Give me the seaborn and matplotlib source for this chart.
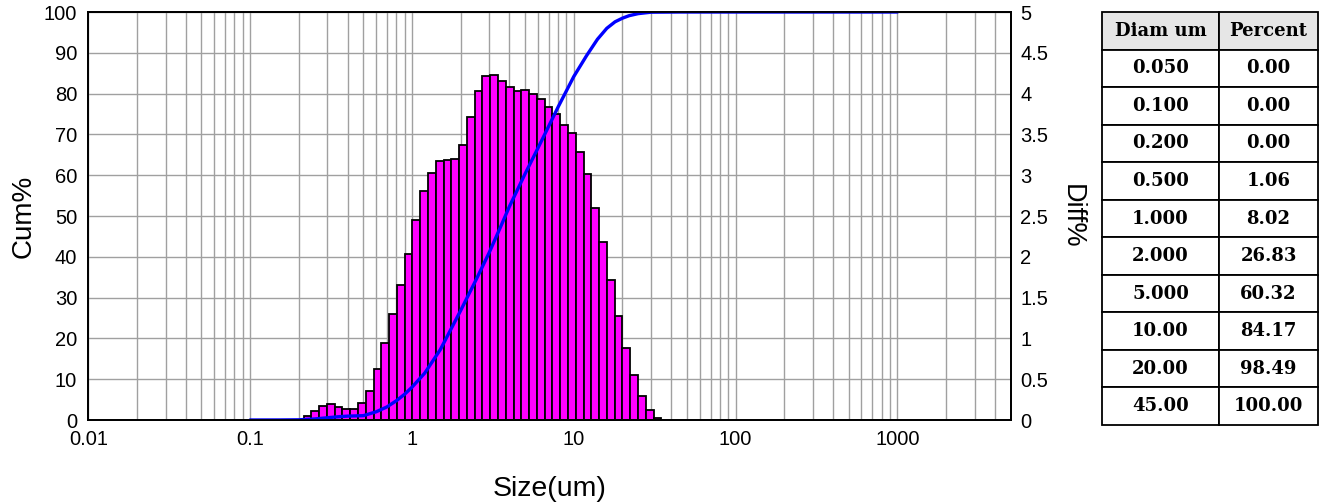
"""
Particle size distribution: differential histogram + cumulative curve + summary table.
"""
import numpy as np
import pandas as pd
import seaborn as sns
import matplotlib
matplotlib.use('Agg')
from matplotlib import pyplot as plt
from matplotlib.ticker import FixedLocator, FuncFormatter, LogLocator, NullFormatter, MultipleLocator

# size classes (um), lower/upper edges of the differential bins
bin_edges = [0.214, 0.239, 0.267, 0.298, 0.333, 0.372, 0.416, 0.464, 0.519, 0.579,
             0.647, 0.723, 0.807, 0.902, 1.007, 1.125, 1.257, 1.404, 1.568, 1.752,
             1.957, 2.186, 2.441, 2.727, 3.046, 3.402, 3.800, 4.245, 4.742, 5.297,
             5.916, 6.608, 7.382, 8.245, 9.210, 10.29, 11.49, 12.84, 14.34, 16.01,
             17.89, 19.98, 22.32, 24.93, 27.85, 31.11, 34.75]
# Diff% per bin
diff_pct = [0.05, 0.11, 0.17, 0.20, 0.16, 0.13, 0.13, 0.21, 0.36, 0.63,
            0.94, 1.30, 1.65, 2.03, 2.45, 2.81, 3.03, 3.17, 3.19, 3.20,
            3.37, 3.71, 4.03, 4.22, 4.23, 4.16, 4.08, 4.03, 4.04, 4.00,
            3.93, 3.84, 3.75, 3.62, 3.52, 3.28, 3.01, 2.60, 2.18, 1.72,
            1.27, 0.88, 0.55, 0.29, 0.12, 0.02]

# cumulative curve (size um, Cum%)
cum_size = [0.1, 0.15, 0.2, 0.25, 0.3, 0.35, 0.4, 0.5, 0.6, 0.7, 0.8, 0.9, 1.0,
            1.2, 1.5, 2.0, 2.5, 3.0, 3.5, 4.0, 5.0, 6.0, 7.0, 8.0, 10, 12, 14,
            16, 18, 20, 22, 25, 30, 45, 100, 1000]
cum_pct = [0, 0.01, 0.05, 0.25, 0.55, 0.8, 0.95, 1.06, 2.0, 3.2, 4.7, 6.3, 8.02,
           11.5, 17.3, 26.83, 34.5, 41.0, 47.0, 52.3, 60.32, 66.6, 72.0, 76.7, 84.17, 89.3, 93.3,
           96.0, 97.6, 98.49, 99.1, 99.6, 99.95, 100, 100, 100]

# summary table
table_diam = ['0.050', '0.100', '0.200', '0.500', '1.000', '2.000', '5.000', '10.00', '20.00', '45.00']
table_percent = ['0.00', '0.00', '0.00', '1.06', '8.02', '26.83', '60.32', '84.17', '98.49', '100.00']
table_header = ['Diam um', 'Percent']

x_ticks = [0.01, 0.1, 1, 10, 100, 1000]

sns.set_style("white")
plt.rcParams['font.family'] = ['Liberation Sans', 'DejaVu Sans']
plt.rcParams['text.color'] = 'black'
plt.rcParams['axes.labelcolor'] = 'black'

edges = np.array(bin_edges)
hist_df = pd.DataFrame({'size': np.sqrt(edges[:-1] * edges[1:]), 'diff': diff_pct})
cum_df = pd.DataFrame({'size': cum_size, 'cum': cum_pct})

fig = plt.figure(figsize=(13.2, 5.03), dpi=100)
ax = fig.add_axes([88.3 / 1320, 1 - 420 / 503, 922.2 / 1320, 408 / 503])
ax2 = ax.twinx()
ax.set_zorder(ax2.get_zorder() + 1)
ax.patch.set_visible(False)

# differential bars on the right axis (bins given in log10 units because of log_scale)
sns.histplot(data=hist_df, x='size', weights='diff', bins=list(np.log10(edges)), log_scale=True,
             ax=ax2, color='#ff00ff', alpha=1, edgecolor='black', linewidth=1.3)

# cumulative curve on the left axis
sns.lineplot(data=cum_df, x='size', y='cum', ax=ax, color='#0000ff', linewidth=2.4)

ax.set_xscale('log')
ax.set_xlim(0.01, 5000)
ax.set_ylim(0, 100)
ax2.set_ylim(0, 5)

ax.xaxis.set_major_locator(FixedLocator(x_ticks))
ax.xaxis.set_major_formatter(FuncFormatter(lambda v, p: f'{v:g}'))
ax.xaxis.set_minor_locator(LogLocator(base=10, subs=np.arange(2, 10), numticks=20))
ax.xaxis.set_minor_formatter(NullFormatter())
ax.yaxis.set_major_locator(MultipleLocator(10))
ax2.yaxis.set_major_locator(MultipleLocator(0.5))
ax2.yaxis.set_major_formatter(FuncFormatter(lambda v, p: f'{v:g}'))

# grid lives on the lower (bar) axes so the bars hide it
ax2.xaxis.set_visible(True)
ax2.set_xlabel('')
ax2.tick_params(axis='x', which='both', labelbottom=False, labeltop=False, length=0)
ax2.grid(True, which='both', axis='x', color='#a0a0a0', linewidth=1.0)
ax2.grid(True, which='major', axis='y', color='#a0a0a0', linewidth=1.0)
ax.grid(False)

for a in (ax, ax2):
    for s in a.spines.values():
        s.set_color('black')
        s.set_linewidth(1.3)
    a.tick_params(which='both', length=0, labelsize=14.5, colors='black')
ax.tick_params(axis='y', pad=8)
ax.tick_params(axis='x', pad=7)
ax2.tick_params(axis='y', pad=7)

ax.set_xlabel('Size(um)', fontsize=20.5, labelpad=20, color='black')
ax.set_ylabel('Cum%', fontsize=20, labelpad=5, color='black')
ax2.set_ylabel('Diff%', fontsize=19.5, rotation=270, labelpad=26, color='black')

# table on the right
tax = fig.add_axes([1102 / 1320, 1 - 425 / 503, 216 / 1320, 413 / 503])
tax.axis('off')
rows = [[d, p] for d, p in zip(table_diam, table_percent)]
tbl = tax.table(cellText=rows, colLabels=table_header, bbox=[0, 0, 1, 1],
                cellLoc='center', colWidths=[117, 99])
tbl.auto_set_font_size(False)
for (r, c), cell in tbl.get_celld().items():
    cell.set_edgecolor('black')
    cell.set_linewidth(1.3)
    cell.get_text().set_fontfamily(['DejaVu Serif'])
    cell.get_text().set_fontweight('heavy')
    cell.get_text().set_fontsize(13)
    cell.get_text().set_color('black')
    if r == 0:
        cell.set_facecolor('#e6e6e6')

fig.savefig('out.png', dpi=100)
